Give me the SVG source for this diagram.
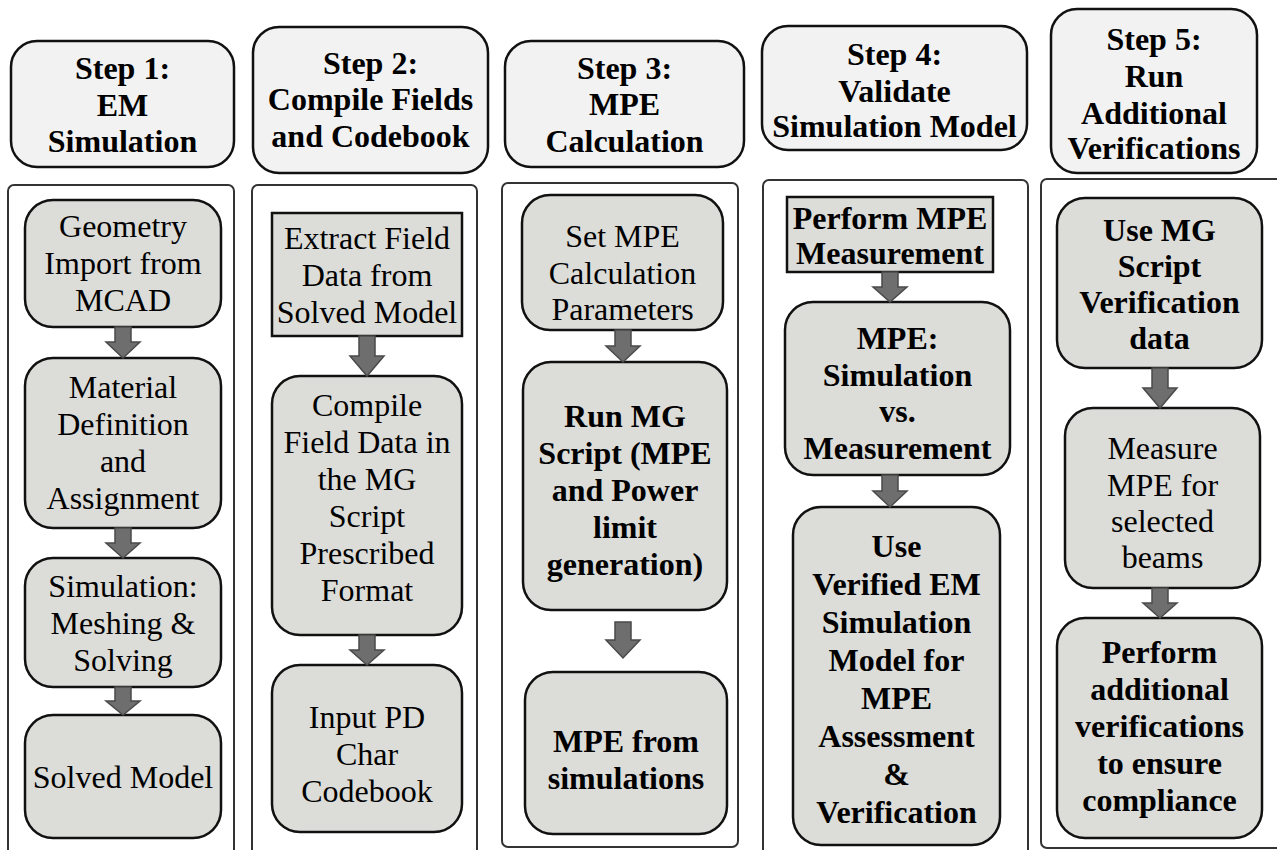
<svg xmlns="http://www.w3.org/2000/svg" width="1277" height="850" viewBox="0 0 1277 850" font-family="'Liberation Serif', 'Times New Roman', 'DejaVu Serif', serif">
<style>
.hdr{fill:#f2f2f2;stroke:#111;stroke-width:2.5}
.cont{fill:#fff;stroke:#333;stroke-width:2}
.box{fill:#dcdcd8;stroke:#111;stroke-width:2.5}
.arr{fill:#6e6e6e;stroke:#4a4a4a;stroke-width:1.5}
text{font-family:'Liberation Serif','Times New Roman','DejaVu Serif',serif;font-size:32px;text-anchor:middle;fill:#000}
.b{font-weight:bold}
</style>
<rect width="1277" height="850" fill="#fff"/>
<g id="containers">
<rect class="cont" x="8" y="185" width="226" height="680" rx="6"/>
<rect class="cont" x="252" y="185" width="225" height="680" rx="6"/>
<rect class="cont" x="502" y="183" width="236" height="664" rx="6"/>
<rect class="cont" x="763" y="180" width="265" height="685" rx="6"/>
<rect class="cont" x="1041" y="179" width="260" height="669" rx="6"/>
</g>
<g id="step1-header"><rect class="hdr" x="11" y="41" width="223" height="126" rx="26"/>
<text class="b" x="122.5" y="79">Step 1:</text><text class="b" x="122.5" y="116">EM</text><text class="b" x="122.5" y="152">Simulation</text></g>
<g id="step2-header"><rect class="hdr" x="253" y="27" width="235" height="146" rx="26"/>
<text class="b" x="370.5" y="74">Step 2:</text><text class="b" x="370.5" y="110">Compile Fields</text><text class="b" x="370.5" y="147">and Codebook</text></g>
<g id="step3-header"><rect class="hdr" x="505" y="41" width="239" height="126" rx="26"/>
<text class="b" x="624.5" y="79">Step 3:</text><text class="b" x="624.5" y="115">MPE</text><text class="b" x="624.5" y="152">Calculation</text></g>
<g id="step4-header"><rect class="hdr" x="762" y="26" width="265" height="124" rx="26"/>
<text class="b" x="894.5" y="65">Step 4:</text><text class="b" x="894.5" y="102">Validate</text><text class="b" x="894.5" y="137">Simulation Model</text></g>
<g id="step5-header"><rect class="hdr" x="1051" y="9" width="206" height="164" rx="26"/>
<text class="b" x="1154" y="50">Step 5:</text><text class="b" x="1154" y="87">Run</text><text class="b" x="1154" y="124">Additional</text><text class="b" x="1154" y="159">Verifications</text></g>

<g id="s1-geometry"><rect class="box" x="25" y="200" width="196" height="127" rx="28"/>
<text x="123" y="237">Geometry</text><text x="123" y="274">Import from</text><text x="123" y="311">MCAD</text></g>
<g id="s1-material"><rect class="box" x="25" y="358" width="196" height="170" rx="28"/>
<text x="123" y="398">Material</text><text x="123" y="435">Definition</text><text x="123" y="472">and</text><text x="123" y="509">Assignment</text></g>
<g id="s1-simulation"><rect class="box" x="25" y="558" width="196" height="129" rx="28"/>
<text x="123" y="597">Simulation:</text><text x="123" y="634">Meshing &amp;</text><text x="123" y="671">Solving</text></g>
<g id="s1-solved"><rect class="box" x="25" y="715" width="196" height="123" rx="28"/>
<text x="123" y="788">Solved Model</text></g>

<g id="s2-extract"><rect class="box" x="272" y="213" width="190" height="123"/>
<text x="367" y="249">Extract Field</text><text x="367" y="286">Data from</text><text x="367" y="323">Solved Model</text></g>
<g id="s2-compile"><rect class="box" x="272" y="376" width="190" height="259" rx="28"/>
<text x="367" y="416">Compile</text><text x="367" y="453">Field Data in</text><text x="367" y="490">the MG</text><text x="367" y="527">Script</text><text x="367" y="564">Prescribed</text><text x="367" y="601">Format</text></g>
<g id="s2-input"><rect class="box" x="272" y="665" width="190" height="167" rx="28"/>
<text x="367" y="728">Input PD</text><text x="367" y="765">Char</text><text x="367" y="802">Codebook</text></g>

<g id="s3-set"><rect class="box" x="522" y="195" width="201" height="135" rx="28"/>
<text x="622.5" y="247">Set MPE</text><text x="622.5" y="284">Calculation</text><text x="622.5" y="320">Parameters</text></g>
<g id="s3-run"><rect class="box" x="523" y="362" width="204" height="248" rx="28"/>
<text class="b" x="625" y="427">Run MG</text><text class="b" x="625" y="464">Script (MPE</text><text class="b" x="625" y="501">and Power</text><text class="b" x="625" y="538">limit</text><text class="b" x="625" y="575">generation)</text></g>
<g id="s3-mpe"><rect class="box" x="525" y="672" width="202" height="162" rx="28"/>
<text class="b" x="626" y="752">MPE from</text><text class="b" x="626" y="789">simulations</text></g>

<g id="s4-perform"><rect class="box" x="787" y="197" width="206" height="75"/>
<text class="b" x="890" y="229">Perform MPE</text><text class="b" x="890" y="264">Measurement</text></g>
<g id="s4-compare"><rect class="box" x="785" y="302" width="225" height="173" rx="28"/>
<text class="b" x="897.5" y="349">MPE:</text><text class="b" x="897.5" y="386">Simulation</text><text class="b" x="897.5" y="422">vs.</text><text class="b" x="897.5" y="459">Measurement</text></g>
<g id="s4-use"><rect class="box" x="793" y="507" width="207" height="338" rx="28"/>
<text class="b" x="896.5" y="557">Use</text><text class="b" x="896.5" y="595">Verified EM</text><text class="b" x="896.5" y="633">Simulation</text><text class="b" x="896.5" y="671">Model for</text><text class="b" x="896.5" y="709">MPE</text><text class="b" x="896.5" y="747">Assessment</text><text class="b" x="896.5" y="785">&amp;</text><text class="b" x="896.5" y="823">Verification</text></g>

<g id="s5-use"><rect class="box" x="1057" y="198" width="205" height="170" rx="28"/>
<text class="b" x="1159.5" y="241">Use MG</text><text class="b" x="1159.5" y="277">Script</text><text class="b" x="1159.5" y="313">Verification</text><text class="b" x="1159.5" y="349">data</text></g>
<g id="s5-measure"><rect class="box" x="1065" y="408" width="195" height="180" rx="28"/>
<text x="1162.5" y="459">Measure</text><text x="1162.5" y="496">MPE for</text><text x="1162.5" y="532">selected</text><text x="1162.5" y="568">beams</text></g>
<g id="s5-perform"><rect class="box" x="1057" y="618" width="205" height="220" rx="28"/>
<text class="b" x="1159.5" y="663">Perform</text><text class="b" x="1159.5" y="700">additional</text><text class="b" x="1159.5" y="737">verifications</text><text class="b" x="1159.5" y="774">to ensure</text><text class="b" x="1159.5" y="811">compliance</text></g>

<g id="connectors">
<path class="arr" d="M115,327 H131 V342 H140 L123,358 L106,342 H115 Z"/>
<path class="arr" d="M115,528 H131 V543 H140 L123,558 L106,543 H115 Z"/>
<path class="arr" d="M115,687 H131 V701 H140 L123,715 L106,701 H115 Z"/>
<path class="arr" d="M359,336 H375 V356 H384 L367,376 L350,356 H359 Z"/>
<path class="arr" d="M359,635 H375 V650 H384 L367,665 L350,650 H359 Z"/>
<path class="arr" d="M615,330 H631 V346 H640 L623,362 L606,346 H615 Z"/>
<path class="arr" d="M615,622 H631 V640 H640 L623,658 L606,640 H615 Z"/>
<path class="arr" d="M882,272 H898 V287 H907 L890,302 L873,287 H882 Z"/>
<path class="arr" d="M882,475 H898 V491 H907 L890,507 L873,491 H882 Z"/>
<path class="arr" d="M1152,368 H1168 V388 H1177 L1160,408 L1143,388 H1152 Z"/>
<path class="arr" d="M1152,588 H1168 V603 H1177 L1160,618 L1143,603 H1152 Z"/>
</g>
</svg>
